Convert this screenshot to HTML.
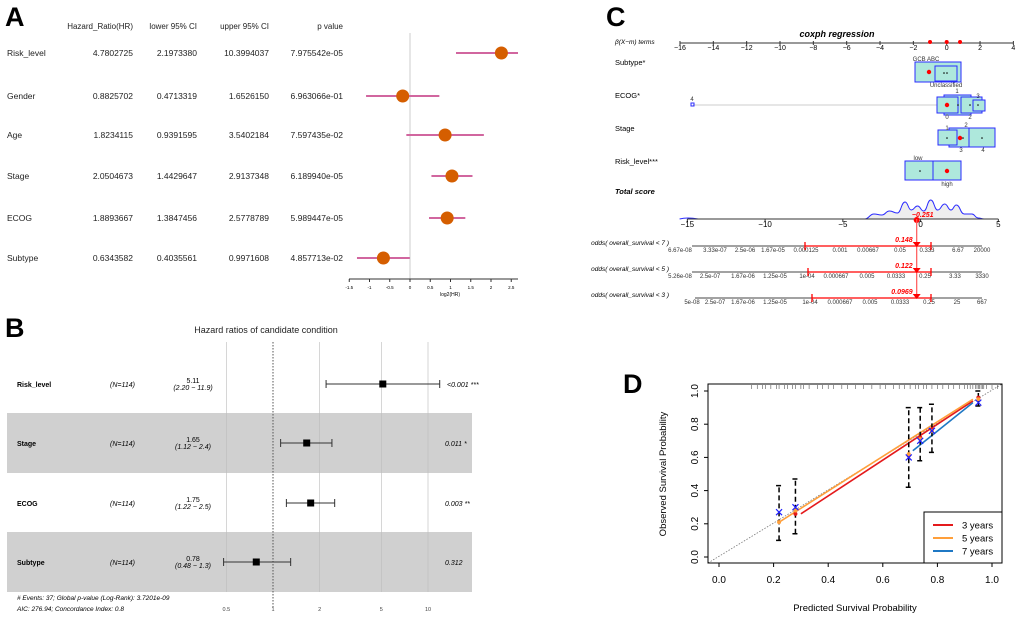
<!DOCTYPE html>
<html><head><meta charset="utf-8"><style>
body{margin:0;background:#fff;}
svg{display:block;font-family:"Liberation Sans",sans-serif;}
</style></head><body>
<svg id="fig" width="1020" height="619" viewBox="0 0 1020 619">
<g id="A"></g>
<g id="B"></g>
<g id="C"></g>
<g id="D"></g>
</svg>
<script>
// ---------- Panel A data ----------
const aNames=["Risk_level","Gender","Age","Stage","ECOG","Subtype"];
const aHR=[4.7802725,0.8825702,1.8234115,2.0504673,1.8893667,0.6343582];
const aLow=[2.1973380,0.4713319,0.9391595,1.4429647,1.3847456,0.4035561];
const aUp=[10.3994037,1.6526150,3.5402184,2.9137348,2.5778789,0.9971608];
const aP=["7.975542e-05","6.963066e-01","7.597435e-02","6.189940e-05","5.989447e-05","4.857713e-02"];
const aTicks=[-1.5,-1,-0.5,0,0.5,1,1.5,2,2.5];
// ---------- Panel B data ----------
const bNames=["Risk_level","Stage","ECOG","Subtype"];
const bHR=[5.11,1.65,1.75,0.78];
const bLow=[2.20,1.12,1.22,0.48];
const bUp=[11.9,2.4,2.5,1.3];
const bCI=["(2.20 − 11.9)","(1.12 −  2.4)","(1.22 −  2.5)","(0.48 −  1.3)"];
const bP=["<0.001 ***","0.011 *","0.003 **","0.312"];
const bTicks=[0.5,1,2,5,10];
// ---------- Panel C data ----------
const cTopTicks=[-16,-14,-12,-10,-8,-6,-4,-2,0,2,4];
const cTopDots=[-1,0,0.8];
const cBotTicks=[-15,-10,-5,0,5];
const cDensX=[-3.6,-3,-2.5,-2,-1.5,-1,-0.6,-0.2,0.2,0.65,1.1,1.55,1.95,2.3,2.8,3.3,3.7,4.1];
const cDensY=[0,5,4,8,6,17,9,13,8,19,9,15,9,14,5,5,1,0];
const cScore=-0.251;
const cOddsVal=["0.148","0.122","0.0969"];
const cOddsLab=[["6.67e-08","3.33e-07","2.5e-06","1.67e-05","0.000125","0.001","0.00667","0.05","0.333","6.67","20000"],
["5.26e-08","2.5e-07","1.67e-06","1.25e-05","1e-04","0.000667","0.005","0.0333","0.25","3.33","3330"],
["5e-08","2.5e-07","1.67e-06","1.25e-05","1e-04","0.000667","0.005","0.0333","0.25","25","667"]];
// ---------- Panel D data ----------
const dPred=[0.22,0.28,0.695,0.737,0.78,0.95];
const dObs3=[null,0.26,0.61,0.72,0.77,0.96];
const dObs5=[0.21,0.28,0.62,0.71,0.76,0.95];
const dObs7=[0.27,0.30,0.60,0.70,0.76,0.93];
const dErrLo=[0.10,0.14,0.42,0.58,0.63,0.91];
const dErrHi=[0.43,0.47,0.90,0.90,0.92,1.0];
const dLine3=[[0.30,0.26],[0.93,0.94]];
const dLine5=[[0.22,0.21],[0.93,0.95]];
const dLine7=[[0.71,0.64],[0.93,0.93]];
const dRug=[0.12,0.14,0.16,0.17,0.19,0.21,0.22,0.24,0.25,0.27,0.28,0.3,0.31,0.33,0.36,0.38,0.4,0.42,0.45,0.47,0.5,0.53,0.56,0.59,0.61,0.64,0.66,0.68,0.7,0.72,0.73,0.75,0.76,0.78,0.8,0.82,0.84,0.86,0.88,0.9,0.91,0.92,0.93,0.94,0.945,0.95,0.955,0.96,0.965,0.97,0.98,1.0,1.02];
const dTicks=[0,0.2,0.4,0.6,0.8,1.0];

const NS="http://www.w3.org/2000/svg";
function mk(parent,tag,attrs,txt){const e=document.createElementNS(NS,tag);for(const k in attrs)e.setAttribute(k,attrs[k]);if(txt!==undefined)e.textContent=txt;parent.appendChild(e);return e;}

// ===== Panel A =====
(function(){
const g=document.getElementById('A');
let t=mk(g,'text',{x:5,y:26,'font-size':27,'font-weight':'bold'},'A');


const hdr=[["Hazard_Ratio(HR)",133],["lower 95% CI",197],["upper 95% CI",269],["p value",343]];
hdr.forEach(h=>{const e=mk(g,'text',{x:h[1],y:29,'font-size':8,'text-anchor':'end',fill:'#222'},h[0]);

});
const rowY=[53,96,135,176,218,258];
const xs=v=>410+40.5*v;
mk(g,'line',{x1:410,y1:33,x2:410,y2:279,stroke:'#ccc','stroke-width':1});
aNames.forEach((n,i)=>{const y=rowY[i]+3;
 const cells=[[n,7,'start'],[aHR[i].toFixed(7),133,'end'],[aLow[i].toFixed(7),197,'end'],[aUp[i].toFixed(7),269,'end'],[aP[i],343,'end']];
 cells.forEach(c=>{const e=mk(g,'text',{x:c[1],y:y,'font-size':8.5,'text-anchor':c[2],fill:'#222'},c[0]);
 
 });
 const lo=Math.max(xs(Math.log2(aLow[i])),349), hi=Math.min(xs(Math.log2(aUp[i])),518);
 const l=mk(g,'line',{x1:lo,y1:rowY[i],x2:hi,y2:rowY[i],stroke:'#d1669f','stroke-width':2});
 
 
 const c=mk(g,'circle',{cx:xs(Math.log2(aHR[i])),cy:rowY[i],r:6.5,fill:'#d55e00'});
 
 
});
mk(g,'line',{x1:349,y1:279,x2:518,y2:279,stroke:'#333','stroke-width':1});
aTicks.forEach(v=>{mk(g,'line',{x1:xs(v),y1:279,x2:xs(v),y2:282,stroke:'#333'});
 const e=mk(g,'text',{x:xs(v),y:289,'font-size':4.5,'text-anchor':'middle'},String(v));
 
 });
t=mk(g,'text',{x:450,y:296,'font-size':5,'text-anchor':'middle'},'log2(HR)');


})();

// ===== Panel B =====
(function(){
const g=document.getElementById('B');
let t=mk(g,'text',{x:5,y:337,'font-size':27,'font-weight':'bold'},'B');


t=mk(g,'text',{x:266,y:333,'font-size':9,'text-anchor':'middle',fill:'#222'},'Hazard ratios of candidate condition');


const rowY=[384,443,503,562];
mk(g,'rect',{x:7,y:413,width:465,height:60,fill:'#d0d0d0'});
mk(g,'rect',{x:7,y:532,width:465,height:60,fill:'#d0d0d0'});
const xs=v=>273+155*Math.log10(v);
bTicks.forEach(v=>{ if(v!==1) mk(g,'line',{x1:xs(v),y1:342,x2:xs(v),y2:592,stroke:'#bbb','stroke-width':0.6});
 const e=mk(g,'text',{x:xs(v),y:611,'font-size':5.5,'text-anchor':'middle',fill:'#444'},String(v));
 
 });
mk(g,'line',{x1:273,y1:342,x2:273,y2:608,stroke:'#555','stroke-width':1,'stroke-dasharray':'1.5,1.5'});
bNames.forEach((n,i)=>{const y=rowY[i];
 let e=mk(g,'text',{x:17,y:y+3,'font-size':7,'font-weight':'bold'},n);
 
 
 e=mk(g,'text',{x:110,y:y+3,'font-size':7,'font-style':'italic'},'(N=114)');
 
 
 e=mk(g,'text',{x:193,y:y-1,'font-size':7,'text-anchor':'middle'},bHR[i].toFixed(2));
 
 
 e=mk(g,'text',{x:193,y:y+6,'font-size':7,'font-style':'italic','text-anchor':'middle'},bCI[i]);
 
 
 e=mk(g,'text',{x:i==0?447:445,y:y+3,'font-size':7,'font-style':'italic'},bP[i]);
 
 
 const x1=xs(bLow[i]),x2=xs(bUp[i]);
 e=mk(g,'path',{d:`M${x1},${y}H${x2}M${x1},${y-4}V${y+4}M${x2},${y-4}V${y+4}`,stroke:'#333','stroke-width':1,fill:'none'});
 
 
 e=mk(g,'rect',{x:xs(bHR[i])-3.5,y:y-3.5,width:7,height:7,fill:'#000'});
 
 
});
t=mk(g,'text',{x:17,y:600,'font-size':6.5,'font-style':'italic'},'# Events: 37; Global p-value (Log-Rank): 3.7201e-09');


t=mk(g,'text',{x:17,y:611,'font-size':6.5,'font-style':'italic'},'AIC: 276.94; Concordance Index: 0.8');


})();

// ===== Panel C =====
(function(){
const g=document.getElementById('C');
let t=mk(g,'text',{x:606,y:26,'font-size':27,'font-weight':'bold'},'C');


t=mk(g,'text',{x:837,y:37,'font-size':9,'font-weight':'bold','font-style':'italic','text-anchor':'middle'},'coxph regression');


t=mk(g,'text',{x:615,y:44,'font-size':6.5,'font-style':'italic'},'β(X−m) terms');


const tx=v=>946.7+16.67*v;
mk(g,'line',{x1:tx(-16),y1:43,x2:tx(4),y2:43,stroke:'#333','stroke-width':1});
cTopTicks.forEach(v=>{mk(g,'line',{x1:tx(v),y1:41,x2:tx(v),y2:45,stroke:'#333'});
 const e=mk(g,'text',{x:tx(v),y:50,'font-size':7,'text-anchor':'middle'},String(v).replace('-','−'));
 
 });
cTopDots.forEach(v=>{const e=mk(g,'circle',{cx:tx(v),cy:42,r:2,fill:'red'});
 
 });
[["Subtype*",65],["ECOG*",98],["Stage",131],["Risk_level***",164]].forEach(r=>{const e=mk(g,'text',{x:615,y:r[1],'font-size':7.5},r[0]);
 
 });
t=mk(g,'text',{x:615,y:194,'font-size':7.5,'font-weight':'bold','font-style':'italic'},'Total score');


const box=(x1,y1,x2,y2)=>{const e=mk(g,'rect',{x:x1,y:y1,width:x2-x1,height:y2-y1,fill:'#aee8dc',stroke:'#2b2bff','stroke-width':1});
 
 };
const lab=(s,x,y)=>{const e=mk(g,'text',{x:x,y:y,'font-size':6,'text-anchor':'middle',fill:'#333'},s);
 
 };
const dot=(x,y,c,r)=>mk(g,'circle',{cx:x,cy:y,r:r,fill:c});
// Subtype
box(915,62,961,82);box(935,66,957,81);dot(929,72,'red',2.2);dot(944,73,'#000',0.8);dot(947,73,'#000',0.8);
lab('GCB ABC',926,61);lab('Unclassified',946,87);
// ECOG
mk(g,'line',{x1:693,y1:105,x2:937,y2:105,stroke:'#ccc','stroke-width':1});
mk(g,'rect',{x:691,y:103,width:3,height:3,fill:'none',stroke:'#2b2bff'});lab('4',692,101);
mk(g,'rect',{x:944,y:95,width:27,height:20,fill:'#aee8dc',stroke:'#2b2bff'});
box(937,97,958,113);box(961,97,982,113);box(973,100,985,111);
dot(947,105,'red',2.2);dot(958,105,'#000',0.8);dot(970,105,'#000',0.8);dot(978,105,'#000',0.8);
lab('1',957,93);lab('3',978,98);lab('0',947,119);lab('2',970,119);
// Stage
mk(g,'rect',{x:949,y:128,width:20,height:19,fill:'#aee8dc',stroke:'#2b2bff'});
box(969,128,995,147);box(938,130,957,145);
dot(947,138,'#000',0.8);dot(960,138,'red',2.2);dot(963,138,'#000',0.8);dot(982,138,'#000',0.8);
lab('1',947,130);lab('2',966,127);lab('3',961,152);lab('4',983,152);
// Risk
box(905,161,933,180);box(933,161,961,180);dot(920,171,'#000',0.8);dot(947,171,'red',2.2);
lab('low',918,160);lab('high',947,186);
// density + bottom axis
const bx=v=>920.6+15.55*v, by=219;
let d=`M${bx(-15.5)},${by} Q${bx(-15)},${by-2} ${bx(-14.3)},${by}`;
const dens=mk(g,'path',{d:d,stroke:'#2b2bff',fill:'none','stroke-width':1});


let pts=cDensX.map((v,i)=>[bx(v),by-cDensY[i]]);
let pd='M'+pts[0][0]+','+pts[0][1];
for(let i=1;i<pts.length;i++){const p0=pts[i-1],p1=pts[i];const mx=(p0[0]+p1[0])/2;pd+=` C${mx},${p0[1]} ${mx},${p1[1]} ${p1[0]},${p1[1]}`;}
const fillp=mk(g,'path',{d:pd+'Z',fill:'#eee',stroke:'none'});


const dp=mk(g,'path',{d:pd,fill:'none',stroke:'#2b2bff','stroke-width':1});


mk(g,'line',{x1:bx(-15),y1:by,x2:bx(5),y2:by,stroke:'#333','stroke-width':1});
cBotTicks.forEach(v=>{mk(g,'line',{x1:bx(v),y1:by,x2:bx(v),y2:by+3,stroke:'#333'});
 const e=mk(g,'text',{x:bx(v),y:by+8,'font-size':8,'text-anchor':'middle'},String(v).replace('-','−'));
 
 });
const sx=bx(cScore);
t=mk(g,'text',{x:sx+6,y:by-2,'font-size':7,'font-weight':'bold','font-style':'italic',fill:'red','text-anchor':'middle'},String(cScore).replace('-','−'));


dot(sx,by+1,'red',3);
mk(g,'line',{x1:sx,y1:by,x2:sx,y2:298,stroke:'#f55','stroke-width':1.2});
// odds axes
const oy=[246,272,298], ox1=[692,692,695], red1=[805,808,812];
const olx=[[680,715,745,773,806,840,868,900,927,958,982],[680,710,743,775,807,836,867,896,925,955,982],[692,715,743,775,810,840,870,900,929,957,982]];
["odds( overall_survival < 7 )","odds( overall_survival < 5 )","odds( overall_survival < 3 )"].forEach((s,i)=>{
 const y=oy[i];
 let e=mk(g,'text',{x:669,y:y-1,'font-size':6.5,'font-style':'italic','text-anchor':'end'},s);
 
 
 mk(g,'line',{x1:ox1[i],y1:y,x2:982,y2:y,stroke:'#444','stroke-width':1});
 cOddsLab[i].forEach((L,j)=>{const e2=mk(g,'text',{x:olx[i][j],y:y+6,'font-size':6,'text-anchor':'middle',fill:'#333'},L);
  
  });
 e=mk(g,'path',{d:`M${red1[i]},${y}H931M${red1[i]},${y-4}V${y+4}M931,${y-4}V${y+4}`,stroke:'red','stroke-width':1.3,fill:'none'});
 
 
 mk(g,'path',{d:`M${sx-4},${y-4}L${sx+4},${y-4}L${sx},${y+1}Z`,fill:'red'});
 e=mk(g,'text',{x:sx-4,y:y-4,'font-size':7,'font-weight':'bold','font-style':'italic',fill:'red','text-anchor':'end'},cOddsVal[i]);
 
 
});
})();

// ===== Panel D =====
(function(){
const g=document.getElementById('D');
let t=mk(g,'text',{x:623,y:393,'font-size':27,'font-weight':'bold'},'D');


const X=v=>719+273*v, Y=v=>557-166*v;
mk(g,'line',{x1:708,y1:563,x2:1002,y2:384,stroke:'#777','stroke-width':0.8,'stroke-dasharray':'1.5,1.5'});
dRug.forEach(v=>{const x=X(v);if(x>708&&x<1002){const e=mk(g,'line',{x1:x,y1:385,x2:x,y2:389,stroke:'#333','stroke-width':0.5});
 
 }});
const seg=(L,c,n)=>{const e=mk(g,'line',{x1:X(L[0][0]),y1:Y(L[0][1]),x2:X(L[1][0]),y2:Y(L[1][1]),stroke:c,'stroke-width':1.6});
 
 };
seg(dLine3,'#e41a1c','line-3-years');seg(dLine5,'#ff9f3a','line-5-years');seg(dLine7,'#1f78c4','line-7-years');
dPred.forEach((p,i)=>{const x=X(p);
 const e=mk(g,'path',{d:`M${x},${Y(dErrLo[i])}V${Y(dErrHi[i])}M${x-3},${Y(dErrLo[i])}H${x+3}M${x-3},${Y(dErrHi[i])}H${x+3}`,stroke:'#000','stroke-width':1.5,'stroke-dasharray':'5,3',fill:'none'});
 
 
 if(dObs3[i]!==null){const c=mk(g,'circle',{cx:x,cy:Y(dObs3[i]),r:2,fill:'#e41a1c'});
  
  }
 const c5=mk(g,'circle',{cx:x,cy:Y(dObs5[i]),r:2,fill:'#ff9f3a'});
 
 
 const y7=Y(dObs7[i]);
 const xx=mk(g,'path',{d:`M${x-3},${y7-3}L${x+3},${y7+3}M${x-3},${y7+3}L${x+3},${y7-3}`,stroke:'#2020ff','stroke-width':1.2});
 
 
});
mk(g,'rect',{x:708,y:384,width:294,height:179,fill:'none',stroke:'#000','stroke-width':1});
dTicks.forEach(v=>{mk(g,'line',{x1:X(v),y1:563,x2:X(v),y2:567,stroke:'#000'});
 let e=mk(g,'text',{x:X(v),y:583,'font-size':10,'text-anchor':'middle'},v.toFixed(1));
 
 
 mk(g,'line',{x1:704,y1:Y(v),x2:708,y2:Y(v),stroke:'#000'});
 e=mk(g,'text',{x:698,y:Y(v),'font-size':10,'text-anchor':'middle',transform:`rotate(-90 698 ${Y(v)})`},v.toFixed(1));
 
 });
t=mk(g,'text',{x:855,y:611,'font-size':9.5,'text-anchor':'middle'},'Predicted Survival Probability');


t=mk(g,'text',{x:666,y:474,'font-size':9.5,'text-anchor':'middle',transform:'rotate(-90 666 474)'},'Observed Survival Probability');


const lg=mk(g,'g',{});


mk(lg,'rect',{x:924,y:512,width:78,height:51,fill:'#fff',stroke:'#000'});
[["3 years",'#e41a1c',525],["5 years",'#ff9f3a',538],["7 years",'#1f78c4',551]].forEach(L=>{
 mk(lg,'line',{x1:933,y1:L[2],x2:953,y2:L[2],stroke:L[1],'stroke-width':2});
 const e=mk(lg,'text',{x:962,y:L[2]+3.5,'font-size':9.5},L[0]);
 
 });
})();
</script>
</body></html>
